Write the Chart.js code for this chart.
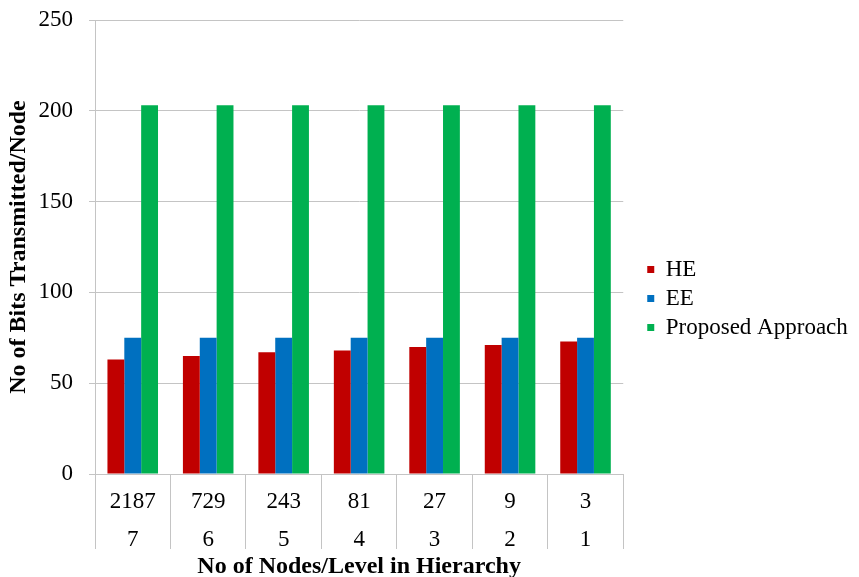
<!DOCTYPE html>
<html>
<head>
<meta charset="utf-8">
<script src="https://cdn.jsdelivr.net/npm/chart.js@4/dist/chart.umd.min.js"></script>
<style>
  html, body { margin: 0; padding: 0; background: #fff; }
  #wrap { width: 859px; height: 577px; }
</style>
</head>
<body>
<div id="wrap"><canvas id="c" width="859" height="577"></canvas></div>
<script>
// Nodes per level (top line) and hierarchy level (bottom line)
const nodeCounts = ['2187', '729', '243', '81', '27', '9', '3'];
const levels = ['7', '6', '5', '4', '3', '2', '1'];

// Bits transmitted per node for each scheme
const heValues = [63, 65, 67, 68, 70, 71, 73];
const eeValues = [75, 75, 75, 75, 75, 75, 75];
const proposedValues = [203, 203, 203, 203, 203, 203, 203];

// Y-axis range and step
const yMin = 0;
const yMax = 250;
const yStep = 50;

const categoryLabels = nodeCounts.map((n, i) => [n, levels[i]]);

const serif = '"Liberation Serif", "Times New Roman", serif';
const gridGray = '#c4c4c4';

new Chart(document.getElementById('c'), {
  type: 'bar',
  data: {
    labels: categoryLabels,
    datasets: [
      { label: 'HE', data: heValues, backgroundColor: '#C00000' },
      { label: 'EE', data: eeValues, backgroundColor: '#0070C0' },
      { label: 'Proposed Approach', data: proposedValues, backgroundColor: '#00B050' }
    ]
  },
  options: {
    responsive: false,
    animation: false,
    layout: { padding: { top: 20, left: 0, right: 4, bottom: 0 } },
    datasets: {
      bar: { barPercentage: 1.0, categoryPercentage: 0.67 }
    },
    plugins: {
      tooltip: { enabled: false },
      legend: {
        position: 'right',
        fullSize: true,
        labels: {
          boxWidth: 7,
          boxHeight: 7,
          padding: 6,
          color: '#000',
          font: { family: serif, size: 23, lineHeight: 1.2 }
        }
      }
    },
    scales: {
      x: {
        // category dividers run from the axis down through the two label rows
        grid: {
          offset: true,
          drawOnChartArea: false,
          drawTicks: true,
          tickLength: 75,
          color: gridGray
        },
        border: { color: gridGray },
        ticks: {
          color: '#000',
          padding: -66,
          maxRotation: 0,
          font: { family: serif, size: 23, lineHeight: 1.65 }
        },
        title: {
          display: true,
          text: 'No of Nodes/Level in Hierarchy',
          color: '#000',
          padding: { top: 0, bottom: -2 },
          font: { family: serif, size: 24, weight: 'bold', lineHeight: 1.0 }
        },
        afterFit: (scale) => { scale.height = 103; }
      },
      y: {
        min: yMin,
        max: yMax,
        grid: {
          color: gridGray,
          tickLength: 6
        },
        border: { color: gridGray },
        ticks: {
          stepSize: yStep,
          color: '#000',
          padding: 16,
          font: { family: serif, size: 23 }
        },
        title: {
          display: true,
          text: 'No of Bits Transmitted/Node',
          color: '#000',
          padding: { top: 4, bottom: 0 },
          font: { family: serif, size: 24, weight: 'bold', lineHeight: 1.2 }
        },
        afterFit: (scale) => {
          scale.width = 95;
          scale.paddingTop = 0;
          scale.paddingBottom = 0;
        }
      },
      // hidden right-hand scale that only keeps a margin between the plot and the legend
      gap: {
        type: 'linear',
        position: 'right',
        display: false,
        afterFit: (scale) => { scale.width = 18; }
      }
    }
  }
});
</script>
</body>
</html>
